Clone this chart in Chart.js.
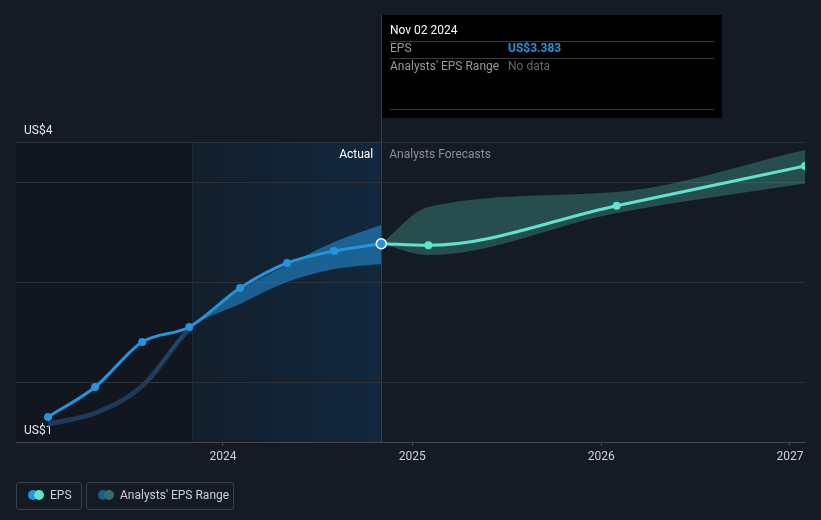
<!DOCTYPE html>
<html>
<head>
<meta charset="utf-8">
<script src="https://cdn.jsdelivr.net/npm/chart.js@4/dist/chart.umd.min.js"></script>
<style>
  body { margin: 0; background: #151b24; }
  #wrap { position: relative; width: 821px; height: 520px; }
  .lg { position: absolute; top: 482px; height: 28px; box-sizing: border-box; border: 1px solid #3a4049;
        border-radius: 3px; color: #cdd0d4; font: 12px Roboto, sans-serif; line-height: 25px; }
  .dot { position: absolute; top: 7px; width: 10px; height: 10px; border-radius: 50%; }
</style>
</head>
<body>
<div id="wrap">
  <canvas id="epsChart" width="821" height="520"></canvas>
  <div class="lg" style="left:16px;width:66px">
    <span class="dot" style="left:11px;background:#2394df"></span>
    <span class="dot" style="left:17px;background:#5fe3cc"></span>
    <span style="position:absolute;left:33px">EPS</span>
  </div>
  <div class="lg" style="left:86px;width:148px">
    <span class="dot" style="left:11px;background:#1f5a8a"></span>
    <span class="dot" style="left:17px;background:#2f6f6b"></span>
    <span style="position:absolute;left:33px">Analysts' EPS Range</span>
  </div>
</div>
<script>
// reported EPS (quarter ends)
const actualDates = ['2023-01-28', '2023-04-29', '2023-07-29', '2023-10-28', '2024-02-03', '2024-05-04', '2024-08-03', '2024-11-02'];
const epsActual = [1.65, 1.95, 2.40, 2.55, 2.94, 3.19, 3.31, 3.383];
// past analyst range
const rangeLowPast = [1.58, 1.69, 1.96, 2.53, 2.78, 3.00, 3.13, 3.18];
const rangeHighPast = [1.58, 1.69, 1.96, 2.53, 2.92, 3.17, 3.40, 3.57];
// forecasts
const forecastDates = ['2024-11-02', '2025-02-01', '2026-01-31', '2027-01-30'];
const epsForecast = [3.383, 3.367, 3.763, 4.16];
const rangeLowFuture = [3.383, 3.27, 3.69, 3.985];
const rangeHighFuture = [3.383, 3.75, 3.90, 4.32];

const yearTicks = [2024, 2025, 2026, 2027];
const yTickValues = [1.4, 2, 3, 4, 4.4];
const yTickLabels = ['US$1', '', '', '', 'US$4'];

const xMin = '2022-11-27', xMax = '2027-01-30';
const highlightStart = '2023-11-02';
const lastActual = '2024-11-02';

const ms = d => Date.parse(d + 'T00:00:00Z');
const pts = (dates, vals) => dates.map((d, i) => ({ x: ms(d), y: vals[i] }));

Chart.defaults.font.family = 'Roboto';
Chart.defaults.font.size = 12;

const overlay = {
  id: 'overlay',
  beforeDraw(chart) {
    const { ctx, chartArea: a, scales: { x } } = chart;
    const xs = x.getPixelForValue(ms(highlightStart));
    const xe = x.getPixelForValue(ms(lastActual));
    ctx.save();
    ctx.fillStyle = '#151b24';
    ctx.fillRect(0, 0, chart.width, chart.height);
    ctx.fillStyle = '#12161e';
    ctx.fillRect(a.left, a.top, xs - a.left, a.bottom - a.top);
    const g = ctx.createLinearGradient(xs, 0, xe, 0);
    g.addColorStop(0, '#131e2b');
    g.addColorStop(1, '#12283e');
    ctx.fillStyle = g;
    ctx.fillRect(xs, a.top, xe - xs, a.bottom - a.top);
    ctx.restore();
  },
  beforeDatasetsDraw(chart) {
    const { ctx, chartArea: a, scales: { x } } = chart;
    const xs = x.getPixelForValue(ms(highlightStart));
    const xe = x.getPixelForValue(ms(lastActual));
    ctx.save();
    ctx.lineWidth = 1;
    ctx.strokeStyle = '#1b2a3b';
    ctx.beginPath();
    ctx.moveTo(Math.round(xs) + 0.5, a.top);
    ctx.lineTo(Math.round(xs) + 0.5, a.bottom);
    ctx.stroke();
    ctx.strokeStyle = '#2a3f57';
    ctx.beginPath();
    ctx.moveTo(Math.round(xe) + 0.5, 15);
    ctx.lineTo(Math.round(xe) + 0.5, a.bottom);
    ctx.stroke();
    ctx.font = '12px Roboto';
    ctx.textBaseline = 'middle';
    ctx.textAlign = 'right';
    ctx.fillStyle = '#ffffff';
    ctx.fillText('Actual', xe - 8, a.top + 13);
    ctx.textAlign = 'left';
    ctx.fillStyle = '#8a8f98';
    ctx.fillText('Analysts Forecasts', xe + 8, a.top + 13);
    ctx.restore();
  },
  afterDraw(chart) {
    const { ctx, scales: { x } } = chart;
    const xe = Math.round(x.getPixelForValue(ms(lastActual))) + 1;
    const w = 340, top = 15, h = 103;
    ctx.save();
    ctx.fillStyle = '#000';
    ctx.fillRect(xe, top, w, h);
    ctx.strokeStyle = '#3a3a3a';
    ctx.lineWidth = 1;
    [41.5, 58.5, 109.5].forEach(yy => {
      ctx.beginPath();
      ctx.moveTo(xe + 8, yy);
      ctx.lineTo(xe + w - 8, yy);
      ctx.stroke();
    });
    ctx.font = '12px Roboto';
    ctx.textBaseline = 'middle';
    ctx.textAlign = 'left';
    ctx.fillStyle = '#ffffff';
    ctx.fillText('Nov 02 2024', xe + 8, 31);
    ctx.fillStyle = '#9a9a9a';
    ctx.fillText('EPS', xe + 8, 49);
    ctx.fillText("Analysts' EPS Range", xe + 8, 67);
    ctx.fillStyle = '#2394df';
    ctx.font = 'bold 12px Roboto';
    ctx.fillText('US$' + epsActual[epsActual.length - 1].toFixed(3), xe + 126, 49);
    ctx.fillStyle = '#666';
    ctx.font = '12px Roboto';
    ctx.fillText('No data', xe + 126, 67);
    ctx.restore();
  }
};

const cutoff = ms(highlightStart);

new Chart(document.getElementById('epsChart'), {
  type: 'line',
  data: {
    datasets: [
      {
        label: 'rangeHighPast',
        data: pts(actualDates, rangeHighPast),
        borderWidth: 5,
        borderColor: '#1e3a56',
        segment: { borderColor: c => c.p1.parsed.x <= cutoff ? '#1e3a56' : 'rgba(0,0,0,0)' },
        pointRadius: 0,
        cubicInterpolationMode: 'monotone',
        fill: false,
        order: 5
      },
      {
        label: 'rangeLowPast',
        data: pts(actualDates, rangeLowPast),
        borderWidth: 0,
        borderColor: 'rgba(0,0,0,0)',
        backgroundColor: 'rgba(35,148,223,0.55)',
        pointRadius: 0,
        cubicInterpolationMode: 'monotone',
        fill: '-1',
        order: 4
      },
      {
        label: 'rangeHighFuture',
        data: pts(forecastDates, rangeHighFuture),
        borderWidth: 0,
        borderColor: 'rgba(0,0,0,0)',
        pointRadius: 0,
        cubicInterpolationMode: 'monotone',
        fill: false,
        order: 5
      },
      {
        label: 'rangeLowFuture',
        data: pts(forecastDates, rangeLowFuture),
        borderWidth: 0,
        borderColor: 'rgba(0,0,0,0)',
        backgroundColor: 'rgba(93,224,200,0.26)',
        pointRadius: 0,
        cubicInterpolationMode: 'monotone',
        fill: '-1',
        order: 4
      },
      {
        label: 'EPS forecast',
        data: pts(forecastDates, epsForecast),
        borderColor: '#5fe3cc',
        backgroundColor: '#5fe3cc',
        borderWidth: 3,
        pointRadius: c => c.dataIndex === 0 ? 0 : 4,
        pointBorderWidth: 0,
        cubicInterpolationMode: 'monotone',
        fill: false,
        order: 1
      },
      {
        label: 'EPS',
        data: pts(actualDates, epsActual),
        borderColor: '#2394df',
        backgroundColor: '#2394df',
        borderWidth: 3,
        pointRadius: c => c.dataIndex === epsActual.length - 1 ? 5 : 4,
        pointBorderWidth: c => c.dataIndex === epsActual.length - 1 ? 1.5 : 0,
        pointBorderColor: '#ffffff',
        cubicInterpolationMode: 'monotone',
        fill: false,
        order: 0
      }
    ]
  },
  options: {
    responsive: false,
    animation: false,
    devicePixelRatio: 1,
    layout: { padding: { top: 142, left: 16, right: 16, bottom: 0 } },
    plugins: { legend: { display: false }, tooltip: { enabled: false } },
    scales: {
      x: {
        type: 'linear',
        min: ms(xMin),
        max: ms(xMax),
        afterFit: s => { s.height = 78; },
        afterBuildTicks: s => { s.ticks = yearTicks.map(y => ({ value: Date.UTC(y, 0, 1) })); },
        ticks: {
          color: '#d0d2d6',
          padding: 4,
          maxRotation: 0,
          autoSkip: false,
          callback: v => new Date(v).getUTCFullYear()
        },
        grid: { drawOnChartArea: false, drawTicks: true, tickLength: 4, color: '#444a53' },
        border: { display: true, color: '#444a53' }
      },
      y: {
        type: 'linear',
        min: yTickValues[0],
        max: yTickValues[yTickValues.length - 1],
        afterFit: s => { s.width = 0; },
        afterBuildTicks: s => { s.ticks = yTickValues.map(v => ({ value: v })); },
        ticks: {
          mirror: true,
          padding: 8,
          labelOffset: -11,
          color: '#e8e8e8',
          callback: (v, i) => yTickLabels[i]
        },
        grid: {
          drawTicks: false,
          color: c => c.index === 0 ? '#444a53' : '#2b3039'
        },
        border: { display: false }
      }
    }
  },
  plugins: [overlay]
});
</script>
</body>
</html>
